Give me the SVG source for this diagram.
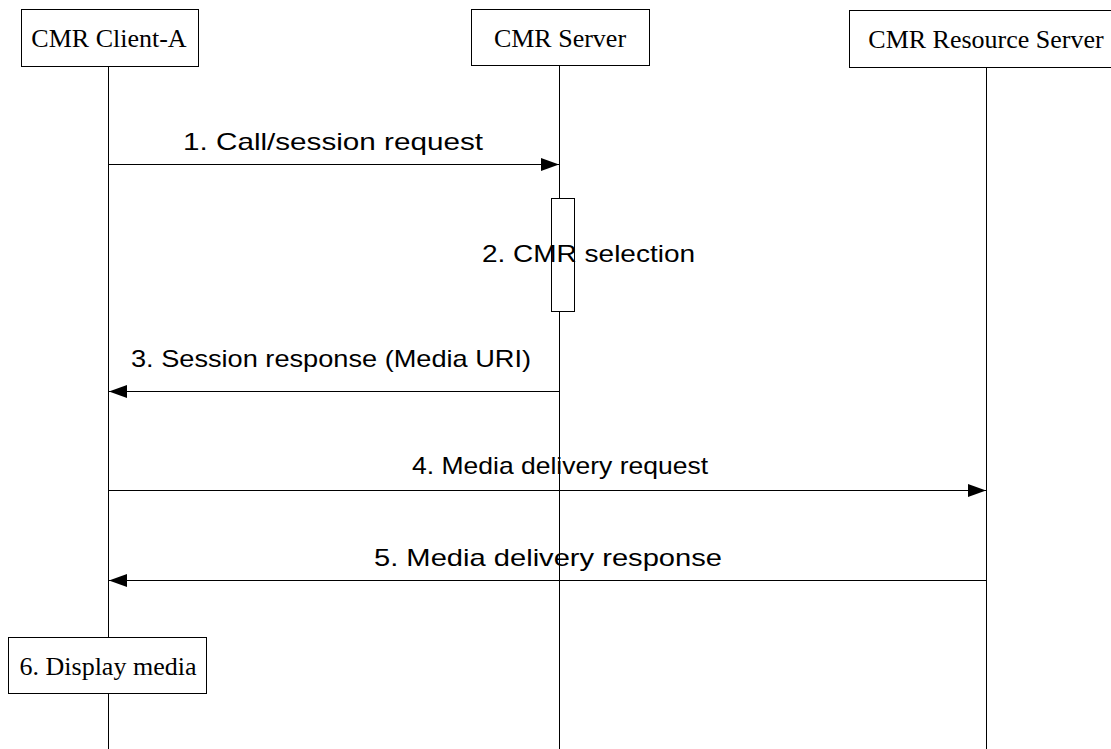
<svg xmlns="http://www.w3.org/2000/svg" width="1111" height="749" viewBox="0 0 1111 749">
<style>
.box{fill:#fff;stroke:#000;stroke-width:1}
.life{stroke:#000;stroke-width:1;fill:none}
.msg{stroke:#000;stroke-width:1;fill:none}
.nt{font-family:"Liberation Serif","Times New Roman",serif;font-size:26px;fill:#000;text-anchor:middle}
.lbl{font-family:"Liberation Sans",Arial,sans-serif;font-size:24px;fill:#000}
</style>
<defs>
<marker id="ah" viewBox="0 0 18 13" refX="18" refY="6.5" markerWidth="18" markerHeight="13" markerUnits="userSpaceOnUse" orient="auto">
<path d="M0,0 L18,6.5 L0,13 Z" fill="#000"/>
</marker>
</defs>
<g id="lifelines">
<line class="life" x1="108.5" y1="66" x2="108.5" y2="749"/>
<line class="life" x1="559.5" y1="66" x2="559.5" y2="749"/>
<line class="life" x1="986.5" y1="67" x2="986.5" y2="749"/>
</g>
<g id="client-a">
<rect class="box" x="21.5" y="9.5" width="177" height="57"/>
<text class="nt" x="109" y="47">CMR Client-A</text>
</g>
<g id="cmr-server">
<rect class="box" x="471.5" y="9.5" width="178" height="56"/>
<text class="nt" x="560" y="47">CMR Server</text>
</g>
<g id="resource-server">
<rect class="box" x="849.5" y="10.5" width="270" height="57"/>
<text class="nt" x="986" y="48">CMR Resource Server</text>
</g>
<g id="cmr-selection">
<rect class="box" x="551.5" y="198.5" width="23" height="113"/>
<text class="lbl" x="482" y="262" textLength="213" lengthAdjust="spacingAndGlyphs">2.  CMR selection</text>
</g>
<g id="display-media">
<rect class="box" x="8.5" y="637.5" width="198" height="56"/>
<text class="nt" x="108" y="675">6. Display media</text>
</g>
<g id="connectors">
<line class="msg" x1="108.5" y1="164.5" x2="559" y2="164.5" marker-end="url(#ah)"/>
<text class="lbl" x="183" y="150" textLength="300" lengthAdjust="spacingAndGlyphs">1.  Call/session request</text>
<line class="msg" x1="559" y1="391.5" x2="109" y2="391.5" marker-end="url(#ah)"/>
<text class="lbl" x="131" y="367" textLength="400" lengthAdjust="spacingAndGlyphs">3.  Session response (Media URI)</text>
<line class="msg" x1="108.5" y1="490.5" x2="986" y2="490.5" marker-end="url(#ah)"/>
<text class="lbl" x="412" y="474" textLength="296" lengthAdjust="spacingAndGlyphs">4.  Media delivery request</text>
<line class="msg" x1="986" y1="580.5" x2="109" y2="580.5" marker-end="url(#ah)"/>
<text class="lbl" x="374" y="566" textLength="348" lengthAdjust="spacingAndGlyphs">5.  Media delivery response</text>
</g>
</svg>
